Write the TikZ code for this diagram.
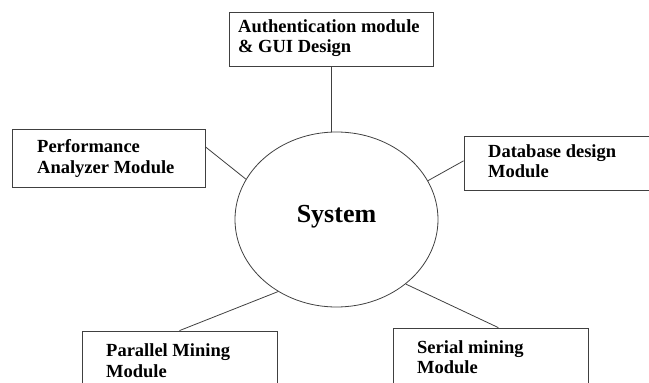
\documentclass[tikz,border=0pt]{standalone}
\usepackage{fontspec}
\setmainfont{Liberation Serif}
\usetikzlibrary{shapes.geometric,calc}
\begin{document}
\begin{tikzpicture}[x=1pt,y=-1pt,
  modbox/.style={draw=black!75,line width=0.8pt,rectangle,inner sep=0pt},
  lbl/.style={anchor=base west,inner sep=0pt,font=\fontsize{18.5}{21}\selectfont\bfseries},
  conn/.style={draw=black!75,line width=0.8pt}]
\useasboundingbox (0,0) rectangle (649,383);
% central ellipse
\node[ellipse,draw=black!75,line width=0.8pt,minimum width=203pt,minimum height=175pt,inner sep=0pt] (sys) at (336.5,219.5) {};
\node[anchor=base,inner sep=0pt,font=\fontsize{26}{30}\selectfont\bfseries] (systxt) at (336.5,222) {System};
% boxes
\node[modbox,minimum width=204pt,minimum height=54pt] (auth) at (331,39) {};
\node[lbl] (auth1) at (238,32) {Authentication module};
\node[lbl] (auth2) at (238,52.5) {\& GUI Design};
\node[modbox,minimum width=193pt,minimum height=58pt] (perf) at (108.5,158) {};
\node[lbl] (perf1) at (37,152) {Performance};
\node[lbl] (perf2) at (37,173) {Analyzer Module};
\node[modbox,minimum width=191pt,minimum height=54pt] (db) at (559.5,163) {};
\node[lbl] (db1) at (488,157) {Database design};
\node[lbl] (db2) at (488,177) {Module};
\node[modbox,minimum width=195pt,minimum height=70pt] (par) at (179.5,366) {};
\node[lbl] (par1) at (106,356) {Parallel Mining};
\node[lbl] (par2) at (106,377) {Module};
\node[modbox,minimum width=195pt,minimum height=72pt] (ser) at (490.5,364) {};
\node[lbl] (ser1) at (417,353) {Serial mining};
\node[lbl] (ser2) at (417,373) {Module};
% connectors
\draw[conn] (auth.south) -- (auth.south |- sys.north);
\draw[conn] ($(perf.north east)!0.31!(perf.south east)$) -- (sys.156);
\draw[conn] ($(db.north west)!0.46!(db.south west)$) -- (sys.23);
\draw[conn] (par.north) -- (sys.231);
\draw[conn] ($(ser.north west)!0.54!(ser.north east)$) -- (sys.-43);
\end{tikzpicture}
\end{document}
